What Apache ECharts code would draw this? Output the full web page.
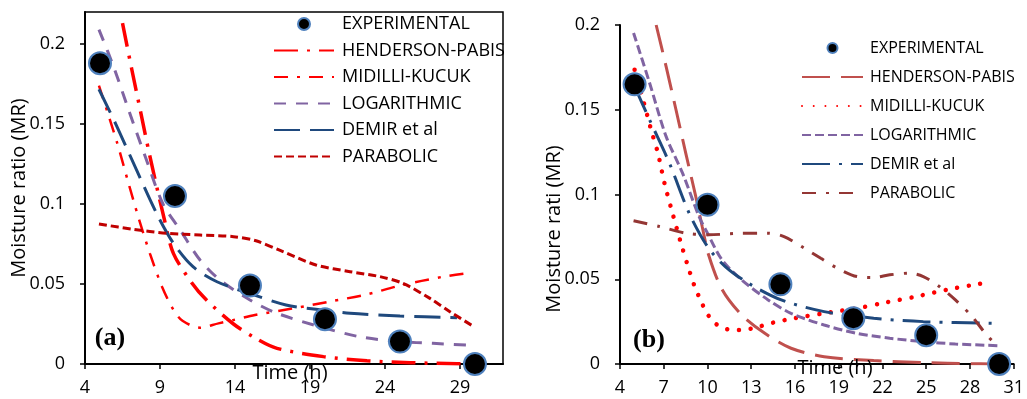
<!DOCTYPE html>
<html>
<head>
<meta charset="utf-8">
<script src="https://cdn.jsdelivr.net/npm/echarts@6/dist/echarts.min.js"></script>
<style>html,body{margin:0;padding:0;background:#fff}#c{width:1027px;height:399px}</style>
</head>
<body>
<div id="c"></div>
<script>
// ---------- Panel (a) data ----------
const expA_x = [5, 10, 15, 20, 25, 30];
const expA_y = [0.188, 0.105, 0.049, 0.028, 0.014, 0];

const hpA_x = [6.5, 7.1, 7.7, 8.3, 9.3, 9.9, 11.1, 12.1, 13.9, 15.4, 16.8, 19.9, 22.8, 25.7, 28.8, 29.8];
const hpA_y = [0.213, 0.185, 0.158, 0.131, 0.09, 0.069, 0.051, 0.04, 0.025, 0.016, 0.0098, 0.0046, 0.002, 0.0008, 0.0002, 0];

const mkA_x = [4.93, 6.15, 6.84, 7.55, 8.33, 9.15, 9.89, 10.5, 11.67, 12.9, 13.9, 15.33, 17.9, 20.3, 22.8, 25, 27.9, 29.67];
const mkA_y = [0.174, 0.138, 0.115, 0.092, 0.069, 0.048, 0.034, 0.027, 0.0227, 0.0254, 0.0275, 0.0306, 0.0348, 0.039, 0.0435, 0.049, 0.0546, 0.057];

const logA_x = [4.93, 5.9, 6.9, 8.1, 9.2, 10.33, 11.67, 13, 15, 16.8, 19.67, 22.33, 25, 27.2, 29.4];
const logA_y = [0.209, 0.186, 0.159, 0.1275, 0.1, 0.084, 0.065, 0.0525, 0.04, 0.0317, 0.0233, 0.017, 0.014, 0.0129, 0.0119];

const demA_x = [4.93, 6.1, 7.45, 8.78, 9.9, 11.2, 12.8, 15, 17.4, 19.4, 21.67, 25, 28.8];
const demA_y = [0.1717, 0.149, 0.121, 0.094, 0.0754, 0.0608, 0.0514, 0.044, 0.0369, 0.0342, 0.0317, 0.030, 0.0289];

const parA_x = [4.93, 7.2, 9.45, 11.67, 13.9, 15.4, 17.2, 19.4, 21.67, 23.67, 25.2, 27, 28.33, 29.85];
const parA_y = [0.0875, 0.0842, 0.0817, 0.0806, 0.0796, 0.077, 0.0702, 0.0619, 0.0577, 0.0546, 0.0504, 0.041, 0.0327, 0.0238];

// ---------- Panel (b) data ----------
const expB_x = [5, 10, 15, 20, 25, 30];
const expB_y = [0.165, 0.094, 0.047, 0.027, 0.017, 0];

const hpB_x = [6.48, 7.16, 7.84, 8.52, 9.19, 9.64, 10.09, 11.0, 12.35, 13.93, 15.73, 18, 21.4, 24.8, 28.15, 29.5];
const hpB_y = [0.2, 0.1756, 0.150, 0.124, 0.099, 0.081, 0.064, 0.044, 0.0289, 0.0181, 0.0093, 0.0043, 0.002, 0.0008, 0.0002, 0];

const mkB_x = [5, 5.58, 6.14, 6.6, 7.05, 7.6, 8.18, 8.63, 9.08, 9.64, 9.97, 10.39, 11, 11.67, 12.35, 13.14, 14.5, 15.96, 18, 20.25, 22.28, 24.3, 26.57, 28.6, 29.3];
const mkB_y = [0.1736, 0.156, 0.138, 0.1244, 0.1067, 0.089, 0.0713, 0.0585, 0.0467, 0.0354, 0.0299, 0.025, 0.0215, 0.0201, 0.0201, 0.0211, 0.0244, 0.027, 0.0299, 0.0329, 0.0364, 0.0398, 0.0441, 0.0472, 0.048];

const logB_x = [4.93, 6.03, 7.16, 8.29, 9.42, 10, 11, 12.35, 14.16, 15.73, 18, 20.25, 22.5, 24.8, 27, 30];
const logB_y = [0.1953, 0.1658, 0.1343, 0.1126, 0.087, 0.0772, 0.0614, 0.0496, 0.0378, 0.0299, 0.023, 0.0181, 0.0152, 0.0132, 0.0118, 0.0108];

const demB_x = [5, 6.03, 7.39, 8.74, 10, 11.22, 12.8, 15.06, 18, 21.4, 24.8, 29.8];
const demB_y = [0.1638, 0.144, 0.1185, 0.089, 0.0693, 0.0575, 0.0477, 0.0378, 0.0309, 0.027, 0.025, 0.024];

const parB_x = [4.93, 6.7, 8.52, 10.09, 12.35, 14.16, 15.25, 16.64, 17.77, 18.9, 20.25, 21.38, 22.5, 23.86, 24.8, 25.9, 27, 28.15, 29.05, 29.8];
const parB_y = [0.0845, 0.0811, 0.0772, 0.0762, 0.0772, 0.0772, 0.0752, 0.0683, 0.0624, 0.0565, 0.0516, 0.051, 0.0526, 0.0536, 0.0516, 0.0457, 0.0378, 0.028, 0.0181, 0.0112];

const legendNames = ['EXPERIMENTAL', 'HENDERSON-PABIS', 'MIDILLI-KUCUK', 'LOGARITHMIC', 'DEMIR et al', 'PARABOLIC'];

// ---------- build ----------
const zip = (xs, ys) => xs.map((x, i) => [x, ys[i]]);
const FONT = '"Open Sans", "Liberation Sans", sans-serif';

function lineSeries(panel, idx, name, xs, ys, color, width, dash, cap) {
  return {
    type: 'line', name: panel + ':' + name, xAxisIndex: idx, yAxisIndex: idx,
    data: zip(xs, ys), symbol: 'none', smooth: 0.3,
    lineStyle: { color: color, width: width, type: dash, cap: cap || 'butt' },
    itemStyle: { color: color }, z: 2, silent: true
  };
}
function expSeries(panel, idx, xs, ys) {
  return {
    type: 'scatter', name: panel + ':EXPERIMENTAL', xAxisIndex: idx, yAxisIndex: idx,
    data: zip(xs, ys), symbol: 'circle', symbolSize: 22,
    itemStyle: { color: '#000', borderColor: '#4F81BD', borderWidth: 2, opacity: 1 }, z: 5, silent: true
  };
}
function axisCommon() {
  return {
    axisLine: { show: true, lineStyle: { color: '#000', width: 2 } },
    axisTick: { show: true, inside: false, length: 5, lineStyle: { color: '#000', width: 1.5 } },
    splitLine: { show: false }
  };
}
const ax = (o) => Object.assign(axisCommon(), o);
const legendData = (p) => legendNames.map((n, i) => i === 0
  ? { name: p + ':' + n }
  : { name: p + ':' + n, itemStyle: { opacity: 0 } });

const option = {
  animation: false,
  backgroundColor: '#fff',
  grid: [
    { left: 85, top: 12, width: 418, height: 352, show: true, borderColor: '#000', borderWidth: 1.5 },
    { left: 620, top: 25, width: 399, height: 339 }
  ],
  xAxis: [
    ax({ type: 'value', gridIndex: 0, min: 4, max: 31.87, interval: 5,
      axisLabel: { color: '#000', fontFamily: FONT, fontSize: 18, margin: 15, showMaxLabel: false } }),
    ax({ type: 'value', gridIndex: 1, min: 4, max: 31, interval: 3,
      axisLabel: { color: '#000', fontFamily: FONT, fontSize: 18, margin: 15 } })
  ],
  yAxis: [
    ax({ type: 'value', gridIndex: 0, min: 0, max: 0.22, interval: 0.05,
      axisLabel: { color: '#000', fontFamily: FONT, fontSize: 18, margin: 20, showMaxLabel: false } }),
    ax({ type: 'value', gridIndex: 1, min: 0, max: 0.2, interval: 0.05,
      axisLabel: { color: '#000', fontFamily: FONT, fontSize: 18, margin: 20 } })
  ],
  legend: [
    {
      data: legendData('a'), orient: 'vertical', left: 273, top: 15, padding: 0,
      itemWidth: 60, itemHeight: 12, itemGap: 8.5, selectedMode: false,
      formatter: n => n.slice(2),
      textStyle: { color: '#000', fontFamily: FONT, fontSize: 18, lineHeight: 18, padding: [0, 0, 0, 3] }
    },
    {
      data: legendData('b'), orient: 'vertical', left: 801, top: 40, padding: 0,
      itemWidth: 61, itemHeight: 10, itemGap: 13, selectedMode: false,
      formatter: n => n.slice(2),
      textStyle: { color: '#000', fontFamily: FONT, fontSize: 16, lineHeight: 16, padding: [0, 0, 0, 2] }
    }
  ],
  graphic: [
    { type: 'text', x: 19, y: 188, rotation: Math.PI / 2, style: { text: 'Moisture ratio (MR)', fill: '#000', font: '20px ' + FONT, textAlign: 'center', textVerticalAlign: 'middle' } },
    { type: 'text', x: 554, y: 229, rotation: Math.PI / 2, style: { text: 'Moisture rati (MR)', fill: '#000', font: '20px ' + FONT, textAlign: 'center', textVerticalAlign: 'middle' } },
    { type: 'text', x: 290, y: 373, z: 10, style: { text: 'Time (h)', fill: '#000', font: '20px ' + FONT, textAlign: 'center', textVerticalAlign: 'middle' } },
    { type: 'text', x: 835, y: 368, z: 10, style: { text: 'Time (h)', fill: '#000', font: '20px ' + FONT, textAlign: 'center', textVerticalAlign: 'middle' } },
    { type: 'text', x: 110, y: 338, style: { text: '(a)', fill: '#000', font: 'bold 26px "Liberation Serif", serif', textAlign: 'center', textVerticalAlign: 'middle' } },
    { type: 'text', x: 649, y: 340, style: { text: '(b)', fill: '#000', font: 'bold 26px "Liberation Serif", serif', textAlign: 'center', textVerticalAlign: 'middle' } }
  ],
  series: [
    expSeries('a', 0, expA_x, expA_y),
    lineSeries('a', 0, 'HENDERSON-PABIS', hpA_x, hpA_y, '#FF0000', 3.5, [24, 9, 3, 9]),
    lineSeries('a', 0, 'MIDILLI-KUCUK', mkA_x, mkA_y, '#FF0000', 2.5, [14, 9, 3, 9]),
    lineSeries('a', 0, 'LOGARITHMIC', logA_x, logA_y, '#8064A2', 3, [12, 10]),
    lineSeries('a', 0, 'DEMIR et al', demA_x, demA_y, '#1F497D', 3, [26, 10]),
    lineSeries('a', 0, 'PARABOLIC', parA_x, parA_y, '#C00000', 3, [8, 4]),

    expSeries('b', 1, expB_x, expB_y),
    lineSeries('b', 1, 'HENDERSON-PABIS', hpB_x, hpB_y, '#C0504D', 3, [28, 11]),
    lineSeries('b', 1, 'MIDILLI-KUCUK', mkB_x, mkB_y, '#FF0000', 4.5, [0.01, 11.7], 'round'),
    lineSeries('b', 1, 'LOGARITHMIC', logB_x, logB_y, '#8064A2', 3, [9, 4]),
    lineSeries('b', 1, 'DEMIR et al', demB_x, demB_y, '#1F497D', 3, [28, 9, 3, 9]),
    lineSeries('b', 1, 'PARABOLIC', parB_x, parB_y, '#943634', 3, [14, 10, 3, 10])
  ]
};

const chart = echarts.init(document.getElementById('c'), null, { renderer: 'canvas' });
chart.setOption(option);
</script>
</body>
</html>
